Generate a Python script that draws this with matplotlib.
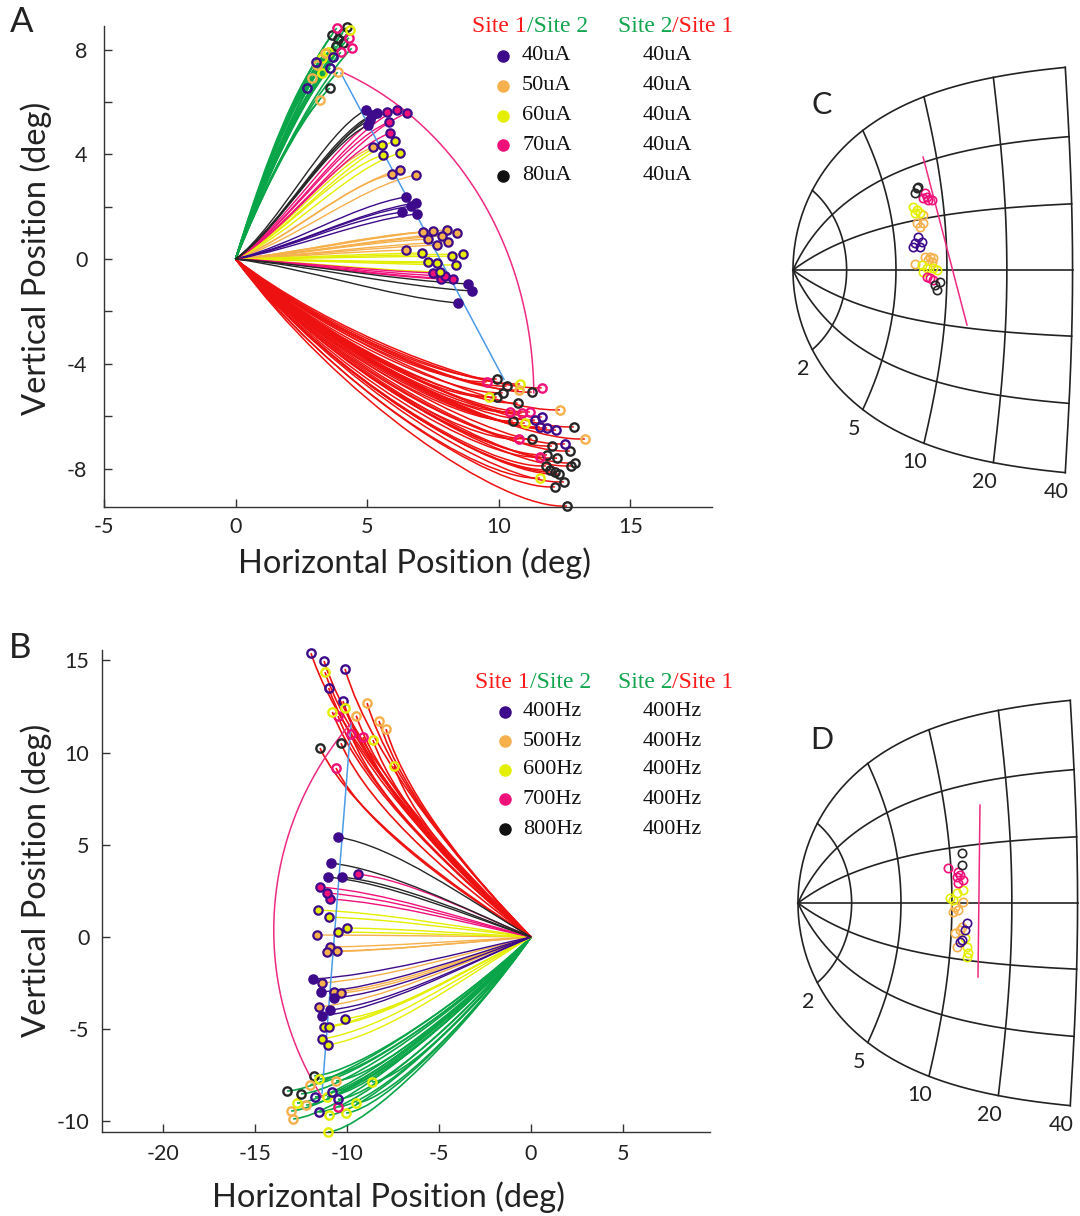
import numpy as np
import matplotlib
matplotlib.use("Agg")
import matplotlib.pyplot as plt
from matplotlib.path import Path
from matplotlib.patches import PathPatch

SANS = ['Lato', 'DejaVu Sans']
SERIF = ['Liberation Serif', 'DejaVu Serif']
plt.rcParams['font.family'] = SANS
plt.rcParams['axes.unicode_minus'] = False

PURPLE = '#3c0a8a'
ORANGE = '#f6b04c'
YELLOW = '#e4ef00'
PINK = '#f0107a'
BLACK = '#262626'
RED = '#ee1111'
GREEN = '#0aa548'
BLUE = '#4b9be6'
ARC = '#ee2a82'
COND = {'p': PURPLE, 'o': ORANGE, 'y': YELLOW, 'm': PINK, 'k': BLACK}

# ---------------- Panel A data (deg) ----------------
A_green_x = [3.65, 4.07, 3.80, 4.07, 4.22, 3.57, 3.90, 3.84, 4.41, 4.30, 4.00, 3.27, 4.35, 3.50, 3.30,
             3.38, 3.88, 3.19, 3.10, 2.90, 3.04, 2.70, 3.60, 3.70]
A_green_y = [8.55, 8.63, 8.13, 8.24, 8.85, 6.53, 8.40, 8.82, 8.05, 8.45, 7.90, 7.67, 8.75, 7.90, 7.10,
             7.86, 7.14, 6.07, 7.40, 6.90, 7.52, 6.53, 7.30, 7.70]
A_green_c = "kkkkkkkmmmmyyyyooooopppp"

A_red_x = [9.92, 10.30, 10.15, 9.92, 10.72, 11.25, 10.53, 11.25, 12.85, 12.02, 11.83, 12.21, 12.70, 12.74,
           12.89, 11.79, 11.94, 12.13, 12.28, 12.47, 12.13, 12.59,
           9.54, 11.63, 10.76, 11.18, 10.87, 10.42, 11.56,
           9.62, 10.80, 10.99, 11.56,
           10.76, 12.32, 13.27,
           11.37, 11.63, 11.83, 11.56, 12.17, 12.51]
A_red_y = [-4.58, -4.85, -5.11, -5.27, -5.50, -5.08, -6.18, -6.87, -6.41, -7.14, -7.48, -7.60, -7.33, -7.90,
           -7.79, -7.90, -8.05, -8.13, -8.21, -8.51, -8.70, -9.43,
           -4.69, -4.92, -6.87, -5.84, -5.88, -5.84, -7.56,
           -5.27, -4.77, -6.26, -8.36,
           -5.00, -5.76, -6.87,
           -6.15, -6.03, -6.45, -6.41, -6.53, -7.06]
A_red_c = "kkkkkkkkkkkkkkkkkkkkkk" + "mmmmmmm" + "yyyy" + "ooo" + "pppppp"

A_mid_black_x = [4.94, 5.17, 5.36, 5.10, 5.02, 8.82, 8.97, 8.44]
A_mid_black_y = [5.69, 5.50, 5.57, 5.31, 5.11, -0.95, -1.22, -1.68]
A_mid_pink_x = [5.74, 6.12, 6.50, 5.82, 5.86, 7.49, 7.79, 8.25, 7.95]
A_mid_pink_y = [5.61, 5.69, 5.57, 5.23, 4.81, -0.53, -0.76, -0.76, -0.65]
A_mid_yellow_x = [5.55, 6.05, 5.59, 6.24, 7.07, 7.30, 7.64, 8.21, 8.63, 8.37, 7.76]
A_mid_yellow_y = [4.35, 4.50, 3.97, 4.05, 0.23, -0.11, -0.15, 0.11, 0.19, -0.23, -0.50]
A_mid_orange_x = [5.21, 5.93, 6.24, 6.84, 7.11, 7.49, 8.02, 8.40, 7.30, 7.83, 8.06, 7.64, 6.46]
A_mid_orange_y = [4.27, 3.24, 3.40, 3.21, 1.03, 1.07, 1.11, 0.99, 0.76, 0.88, 0.65, 0.53, 0.34]
A_mid_purple_x = [6.46, 6.84, 6.31, 6.88, 6.65]
A_mid_purple_y = [2.37, 2.14, 1.79, 1.72, 2.02]

A_blue_x = [4.00, 10.20]
A_blue_y = [7.10, -4.60]
A_arc_x = [4.14, 11.33]
A_arc_y = [7.10, -5.11]

# ---------------- Panel B data (deg) ----------------
B_red_x = [-11.96, -11.25, -10.11, -10.22, -11.20, -10.11, -8.59, -7.45, -8.91, -8.26, -7.88,
           -10.49, -9.13, -10.60, -11.47, -10.33, -9.80, -10.80, -9.50, -11.00]
B_red_y = [15.39, 14.96, 14.53, 12.79, 14.36, 12.41, 10.68, 9.27, 12.68, 11.71, 11.27,
           11.98, 10.84, 9.16, 10.24, 10.51, 11.00, 12.20, 12.00, 13.50]
B_red_c = "pppp" + "yyyy" + "ooo" + "mmm" + "kk" + "myop"

B_green_x = [-11.79, -13.26, -10.60, -13.04, -12.93, -12.23, -8.64, -12.72, -10.98, -10.05, -11.03,
             -11.09, -11.74, -10.82, -11.52, -10.49, -12.00, -11.50, -10.50, -12.50, -9.50]
B_green_y = [-7.53, -8.35, -7.80, -9.43, -9.86, -9.11, -7.86, -9.00, -9.65, -9.54, -10.57,
             -8.67, -8.67, -8.40, -9.49, -9.21, -8.00, -7.70, -8.80, -8.50, -9.00]
B_green_c = "kk" + "oooo" + "yyyyyy" + "ppp" + "m" + "oypky"

B_mid_black_x = [-10.49, -10.87, -11.03, -10.27]
B_mid_black_y = [5.42, 4.01, 3.25, 3.25]
B_mid_pink_x = [-11.47, -9.40, -10.92, -11.09]
B_mid_pink_y = [2.71, 3.41, 2.06, 2.38]
B_mid_yellow_x = [-11.58, -10.98, -10.00, -10.49, -10.11, -11.25, -10.98, -11.36, -11.03]
B_mid_yellow_y = [1.46, 1.08, 0.49, 0.27, -4.44, -4.88, -4.88, -5.53, -5.85]
B_mid_orange_x = [-11.63, -10.92, -11.09, -10.54, -11.36, -10.71, -10.33, -11.52]
B_mid_orange_y = [0.11, -0.54, -0.81, -0.76, -2.49, -2.98, -3.04, -3.79]
B_mid_purple_x = [-11.85, -11.41, -10.71, -10.92, -11.36]
B_mid_purple_y = [-2.28, -2.98, -3.31, -3.96, -4.28]

B_blue_x = [-9.78, -11.36]
B_blue_y = [11.60, -8.46]
B_arc_x = [-9.78, -11.36]
B_arc_y = [11.60, -8.67]

# ---------------- Panels C / D data (eccentricity deg, polar angle deg) ----------------
C_black_ecc = [7.50, 7.24, 7.61, 8.86, 9.18, 8.63]
C_black_ang = [47.8, 45.4, 48.2, -11.3, -6.7, -8.5]
C_pink_ecc = [8.18, 8.32, 8.37, 8.79, 7.91, 7.76, 8.07, 8.39]
C_pink_ang = [44.0, 41.5, 39.8, 39.3, 41.5, -4.1, -4.6, -5.7]
C_yellow_ecc = [6.86, 7.18, 7.42, 6.96, 7.25, 7.75, 8.38, 8.82, 7.35]
C_yellow_ang = [37.9, 35.7, 33.6, 34.2, 3.0, 1.2, 1.1, 0.0, -1.2]
C_orange_ecc = [7.68, 7.02, 7.60, 7.27, 7.57, 8.08, 8.40, 7.86, 6.59, 8.28]
C_orange_ang = [32.1, 28.2, 27.6, 25.6, 7.7, 7.5, 6.9, 5.8, 3.7, 4.6]
C_purple_ecc = [7.00, 6.68, 7.34, 6.47, 7.12]
C_purple_ang = [19.9, 16.5, 16.6, 14.2, 13.8]
C_line_ecc = [8.63, 13.03]
C_line_ang = [62.7, -28.5]

D_black_ecc = [11.56, 11.45]
D_black_ang = [26.5, 20.2]
D_pink_ecc = [9.65, 10.87, 11.11, 10.71, 11.49, 10.81]
D_pink_ang = [19.4, 16.7, 15.0, 14.1, 12.3, 10.8]
D_yellow_ecc = [11.45, 10.65, 9.76, 10.13, 12.19, 12.40, 12.29, 11.84]
D_yellow_ang = [6.9, 5.4, 2.8, 1.6, -23.1, -26.2, -28.3, -18.5]
D_orange_ecc = [11.44, 10.38, 10.77, 10.14, 11.36, 10.47, 10.84, 11.10]
D_orange_ang = [0.5, -2.2, -3.8, -4.9, -12.8, -16.3, -23.7, -14.5]
D_purple_ecc = [12.04, 11.80, 11.44, 11.18]
D_purple_ang = [-10.6, -14.3, -19.7, -20.9]
D_line_ecc = [14.86, 14.18]
D_line_ang = [49.1, -37.6]

ECC_RINGS = [2, 5, 10, 20, 40]
ANGLE_SPOKES = [-90, -60, -30, 0, 30, 60, 90]

LEG_A_left = ["40uA", "50uA", "60uA", "70uA", "80uA"]
LEG_A_right = ["40uA", "40uA", "40uA", "40uA", "40uA"]
LEG_B_left = ["400Hz", "500Hz", "600Hz", "700Hz", "800Hz"]
LEG_B_right = ["400Hz", "400Hz", "400Hz", "400Hz", "400Hz"]
LEG_COLORS = [PURPLE, ORANGE, YELLOW, PINK, '#111111']

# ---------------- figure ----------------
W, H = 1080, 1216
fig = plt.figure(figsize=(W / 100, H / 100), dpi=100)


def axes_px(l, t, r, b):
    return fig.add_axes([l / W, 1 - b / H, (r - l) / W, (b - t) / H])


def traj(ax, xs, ys, color, shape, lw=1.0, z=2):
    (a1, b1), (a2, b2) = shape
    for x, y in zip(xs, ys):
        verts = [(0, 0), (a1 * x, b1 * y), (a2 * x, b2 * y), (x, y)]
        codes = [Path.MOVETO, Path.CURVE4, Path.CURVE4, Path.CURVE4]
        ax.add_patch(PathPatch(Path(verts, codes), fc='none', ec=color, lw=lw, zorder=z,
                               clip_on=False))


def ends_open(ax, xs, ys, cs, z=5):
    for x, y, c in zip(xs, ys, cs):
        ax.plot(x, y, 'o', ms=6, mfc='none', mec=COND[c], mew=1.7, zorder=z, clip_on=False)


def ends_mid(ax, xs, ys, face, z=6):
    ax.plot(xs, ys, 'o', ms=6, mfc=face, mec=PURPLE, mew=1.6, ls='none', zorder=z, clip_on=False)


A_CONST, S_Y = 3.0, 1.29


def cortical_arc(x0, y0, x1, y1, mirror=False):
    sgn = -1 if mirror else 1
    w0 = np.log(complex(sgn * x0, y0) + A_CONST)
    w1 = np.log(complex(sgn * x1, y1) + A_CONST)
    t = np.linspace(0, 1, 200)
    z = np.exp(w0 + t * (w1 - w0)) - A_CONST
    return sgn * z.real, z.imag


def style_axes(ax):
    for s in ['top', 'right']:
        ax.spines[s].set_visible(False)
    for s in ['left', 'bottom']:
        ax.spines[s].set_color('#333333')
        ax.spines[s].set_linewidth(1.0)
    ax.tick_params(which='both', direction='in', length=6, width=1.0, color='#333333',
                   labelsize=15.5, labelcolor='#222222')


# ---- Panel A ----
axA = axes_px(104, 26, 712, 507)
axA.set_xlim(-5, 18.1)
axA.set_ylim(-9.47, 8.9)
style_axes(axA)
axA.set_xticks([-5, 0, 5, 10, 15])
axA.set_yticks([-8, -4, 0, 4, 8])
axA.set_yticks([-6, -2, 2, 6], minor=True)
axA.tick_params(axis='y', pad=12)
axA.tick_params(axis='x', pad=7)

traj(axA, A_green_x, A_green_y, GREEN, ((0.22, 0.3), (0.62, 0.78)), lw=1.2)
traj(axA, A_red_x, A_red_y, RED, ((0.3, 0.55), (0.8, 1.02)), lw=1.1)
mid_shape_A = ((0.33, 0.22), (0.68, 0.85))
traj(axA, A_mid_orange_x, A_mid_orange_y, ORANGE, mid_shape_A, z=3)
traj(axA, A_mid_yellow_x, A_mid_yellow_y, YELLOW, mid_shape_A, z=3)
traj(axA, A_mid_purple_x, A_mid_purple_y, PURPLE, mid_shape_A, z=3)
traj(axA, A_mid_pink_x, A_mid_pink_y, PINK, mid_shape_A, z=3)
traj(axA, A_mid_black_x, A_mid_black_y, BLACK, mid_shape_A, z=3)
axA.plot(A_blue_x, A_blue_y, color=BLUE, lw=1.1, zorder=4)
ax_, ay_ = cortical_arc(A_arc_x[0], A_arc_y[0], A_arc_x[1], A_arc_y[1])
axA.plot(ax_, ay_, color=ARC, lw=1.1, zorder=4)
ends_open(axA, A_green_x, A_green_y, A_green_c)
ends_open(axA, A_red_x, A_red_y, A_red_c)
ends_mid(axA, A_mid_black_x, A_mid_black_y, PURPLE)
ends_mid(axA, A_mid_pink_x, A_mid_pink_y, PINK)
ends_mid(axA, A_mid_yellow_x, A_mid_yellow_y, YELLOW)
ends_mid(axA, A_mid_orange_x, A_mid_orange_y, ORANGE)
ends_mid(axA, A_mid_purple_x, A_mid_purple_y, PURPLE)

# ---- Panel B ----
axB = axes_px(102, 650, 710, 1132)
axB.set_xlim(-23.32, 9.73)
axB.set_ylim(-10.57, 15.56)
style_axes(axB)
axB.set_xticks([-20, -15, -10, -5, 0, 5])
axB.set_yticks([-10, -5, 0, 5, 10, 15])
axB.tick_params(axis='y', pad=9)
axB.tick_params(axis='x', pad=9)

traj(axB, B_green_x, B_green_y, GREEN, ((0.3, 0.45), (0.8, 0.98)), lw=1.2)
traj(axB, B_red_x, B_red_y, RED, ((0.35, 0.25), (0.85, 0.65)), lw=1.2)
mid_shape_B = ((0.35, 0.4), (0.7, 0.9))
traj(axB, B_mid_orange_x, B_mid_orange_y, ORANGE, mid_shape_B, z=3)
traj(axB, B_mid_yellow_x, B_mid_yellow_y, YELLOW, mid_shape_B, z=3)
traj(axB, B_mid_purple_x, B_mid_purple_y, PURPLE, mid_shape_B, z=3)
traj(axB, B_mid_pink_x, B_mid_pink_y, PINK, mid_shape_B, z=3)
traj(axB, B_mid_black_x, B_mid_black_y, BLACK, mid_shape_B, z=3)
axB.plot(B_blue_x, B_blue_y, color=BLUE, lw=1.1, zorder=4)
bx_, by_ = cortical_arc(B_arc_x[0], B_arc_y[0], B_arc_x[1], B_arc_y[1], mirror=True)
axB.plot(bx_, by_, color=ARC, lw=1.1, zorder=4)
ends_open(axB, B_green_x, B_green_y, B_green_c)
ends_open(axB, B_red_x, B_red_y, B_red_c)
ends_mid(axB, B_mid_black_x, B_mid_black_y, PURPLE)
ends_mid(axB, B_mid_pink_x, B_mid_pink_y, PINK)
ends_mid(axB, B_mid_yellow_x, B_mid_yellow_y, YELLOW)
ends_mid(axB, B_mid_orange_x, B_mid_orange_y, ORANGE)
ends_mid(axB, B_mid_purple_x, B_mid_purple_y, PURPLE)


# ---- Panels C and D (log-polar map) ----
def to_map(ecc, ang):
    z = np.asarray(ecc, dtype=float) * np.exp(1j * np.deg2rad(np.asarray(ang, dtype=float)))
    w = np.log(z + A_CONST) - np.log(A_CONST)
    return w.real, S_Y * w.imag


def map_panel(ox, oy, groups, line_ecc, line_ang):
    ax = axes_px(780, oy - 220, 1080, oy + 240)
    ax.set_xlim((780 - ox) / 105, (1080 - ox) / 105)
    ax.set_ylim(-240 / 105, 220 / 105)
    ax.axis('off')
    for e in ECC_RINGS:
        gx, gy = to_map(e, np.linspace(-90, 90, 300))
        ax.plot(gx, gy, color='#222222', lw=1.2, zorder=1)
        px, py = to_map(e, -90)
        ax.annotate(str(e), (px, py), xytext=(-9, -19), textcoords='offset pixels',
                    ha='center', va='center', fontsize=15.5, color='#222222')
    for a in ANGLE_SPOKES:
        gx, gy = to_map(np.linspace(0, 40, 400), a)
        ax.plot(gx, gy, color='#222222', lw=1.2, zorder=1)
    lx, ly = to_map(line_ecc, line_ang)
    ax.plot(lx, ly, color=ARC, lw=1.1, zorder=3)
    for ecc, ang, col in groups:
        mx, my = to_map(ecc, ang)
        ax.plot(mx, my, 'o', ms=6, mfc='none', mec=col, mew=1.2, ls='none', zorder=4)
    return ax


map_panel(793, 270,
          [(C_orange_ecc, C_orange_ang, ORANGE), (C_yellow_ecc, C_yellow_ang, YELLOW),
           (C_purple_ecc, C_purple_ang, PURPLE), (C_pink_ecc, C_pink_ang, PINK),
           (C_black_ecc, C_black_ang, BLACK)], C_line_ecc, C_line_ang)
map_panel(798, 903,
          [(D_orange_ecc, D_orange_ang, ORANGE), (D_yellow_ecc, D_yellow_ang, YELLOW),
           (D_purple_ecc, D_purple_ang, PURPLE), (D_pink_ecc, D_pink_ang, PINK),
           (D_black_ecc, D_black_ang, BLACK)], D_line_ecc, D_line_ang)

# ---- overlay for text / legends (pixel coordinates) ----
ov = fig.add_axes([0, 0, 1, 1], facecolor='none')
ov.set_xlim(0, W)
ov.set_ylim(H, 0)
ov.axis('off')

ov.text(22, 22, "A", fontsize=25, ha='center', va='center', color='#222222')
ov.text(20, 648, "B", fontsize=25, ha='center', va='center', color='#222222')
ov.text(822, 105, "C", fontsize=22, ha='center', va='center', color='#222222')
ov.text(822, 740, "D", fontsize=22, ha='center', va='center', color='#222222')

ov.text(415, 563, "Horizontal Position (deg)", fontsize=23.5, ha='center', va='center', color='#222222')
ov.text(389, 1197, "Horizontal Position (deg)", fontsize=23.5, ha='center', va='center', color='#222222')
ov.text(36, 258, "Vertical Position (deg)", fontsize=23.5, ha='center', va='center', rotation=90, color='#222222')
ov.text(36, 880, "Vertical Position (deg)", fontsize=23.5, ha='center', va='center', rotation=90, color='#222222')

renderer = fig.canvas.get_renderer()
LRED = '#ff1a1a'
LGREEN = '#12a54e'


def two_tone(x, y, parts, size=17):
    for s, c in parts:
        t = ov.text(x, y, s, color=c, fontsize=size, family=SERIF, ha='left', va='center')
        x += t.get_window_extent(renderer).width


def legend(x_head1, x_head2, y_head, rows_y, dot_x, x1, x2, left, right):
    two_tone(x_head1, y_head, [("Site 1", LRED), ("/Site 2", LGREEN)])
    two_tone(x_head2, y_head, [("Site 2", LGREEN), ("/Site 1", LRED)])
    for yy, l, r, c in zip(rows_y, left, right, LEG_COLORS):
        ov.plot(dot_x, yy, 'o', ms=8, color=c)
        ov.text(x1, yy, l, fontsize=16, family=SERIF, ha='left', va='center', color='#111111')
        ov.text(x2, yy, r, fontsize=16, family=SERIF, ha='left', va='center', color='#111111')


legend(472, 618, 26, [56, 86, 116, 145, 176], 503, 522, 643, LEG_A_left, LEG_A_right)
legend(475, 618, 682, [712, 741, 770, 799, 829], 505, 523, 643, LEG_B_left, LEG_B_right)

fig.savefig("out.png", dpi=100)
